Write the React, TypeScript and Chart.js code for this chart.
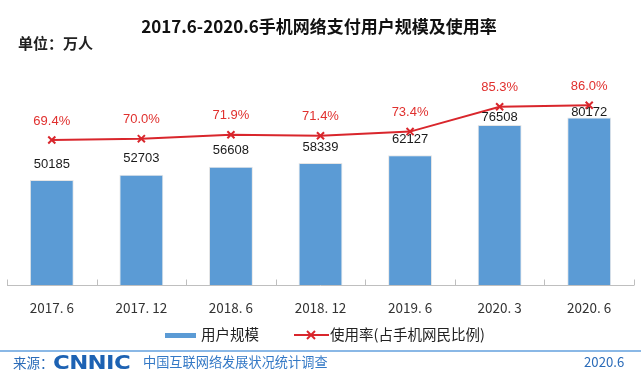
import { useEffect, useRef } from "react";
import { Chart, registerables } from "chart.js";

Chart.register(...registerables);

const categories = ["2017. 6", "2017. 12", "2018. 6", "2018. 12", "2019. 6", "2020. 3", "2020. 6"];
const userScale = [50185, 52703, 56608, 58339, 62127, 76508, 80172];
const usageRate = [69.4, 70.0, 71.9, 71.4, 73.4, 85.3, 86.0];

const BAR_COLOR = "#5b9bd5";
const LINE_COLOR = "#d9262c";
const RATE_TEXT = "#e0302e";
const CJK = "'Noto Sans CJK SC', 'Noto Sans', sans-serif";
const LATIN = "'Liberation Sans', Arial, sans-serif";

// vertical gap between a bar top and the centre of its value label
const barLabelGap = [16, 16, 16, 16, 16, 8, 5];
const rateLabelGap = 19;

const overlayPlugin = {
  id: "overlay",
  afterDatasetsDraw(chart: any) {
    const ctx = chart.ctx as CanvasRenderingContext2D;
    const area = chart.chartArea;
    const xs = chart.scales.x;
    const n = chart.data.labels.length;
    ctx.save();
    // axis line + boundary tick marks
    ctx.strokeStyle = "#bfbfbf";
    ctx.lineWidth = 1;
    const yb = Math.round(area.bottom) + 0.5;
    ctx.beginPath();
    ctx.moveTo(area.left, yb);
    ctx.lineTo(area.right, yb);
    for (let i = 0; i <= n; i++) {
      const px = Math.round(xs.getPixelForValue(i - 0.5)) + 0.5;
      ctx.moveTo(px, yb);
      ctx.lineTo(px, yb - 6);
    }
    ctx.stroke();

    ctx.textAlign = "center";
    ctx.textBaseline = "middle";
    ctx.font = `13px ${LATIN}`;
    const barMeta = chart.getDatasetMeta(0);
    ctx.fillStyle = "#1a1a1a";
    barMeta.data.forEach((el: any, i: number) => {
      ctx.fillText(String(userScale[i]), el.x, el.y - barLabelGap[i]);
    });
    const lineMeta = chart.getDatasetMeta(1);
    ctx.fillStyle = RATE_TEXT;
    lineMeta.data.forEach((el: any, i: number) => {
      ctx.fillText(usageRate[i].toFixed(1) + "%", el.x, el.y - rateLabelGap);
    });
    ctx.restore();
  },
};

export default function App() {
  const canvasRef = useRef<HTMLCanvasElement>(null);

  useEffect(() => {
    if (!canvasRef.current) return;
    const chart = new Chart(canvasRef.current, {
      type: "bar",
      data: {
        labels: categories,
        datasets: [
          {
            type: "bar",
            label: "用户规模",
            data: userScale,
            backgroundColor: BAR_COLOR,
            borderColor: "rgba(0,0,0,0.10)",
            borderWidth: 1,
            categoryPercentage: 1,
            barPercentage: 0.49,
            yAxisID: "y",
            order: 1,
          },
          {
            type: "line",
            label: "使用率(占手机网民比例)",
            data: usageRate,
            borderColor: LINE_COLOR,
            backgroundColor: LINE_COLOR,
            borderWidth: 2,
            pointStyle: "crossRot",
            pointRadius: 5,
            pointBorderWidth: 2,
            pointBorderColor: LINE_COLOR,
            tension: 0,
            yAxisID: "y2",
            order: 0,
          },
        ],
      },
      options: {
        responsive: false,
        animation: false,
        devicePixelRatio: 1,
        layout: { padding: { left: 5, right: 4, top: 76, bottom: 45.8 } },
        plugins: {
          legend: { display: false },
          tooltip: { enabled: false },
          title: { display: false },
        },
        scales: {
          x: {
            offset: true,
            grid: { display: false, drawTicks: false },
            border: { display: false },
            ticks: {
              color: "#333333",
              padding: 15,
              maxRotation: 0,
              autoSkip: false,
              font: { family: CJK, size: 13.5 },
            },
          },
          y: { display: false, min: 0, max: 100000 },
          y2: { display: false, min: 0, max: 100, position: "right" },
        },
      },
      plugins: [overlayPlugin],
    } as any);
    return () => chart.destroy();
  }, []);

  const abs = (o: any) => ({ position: "absolute" as const, whiteSpace: "nowrap" as const, ...o });

  return (
    <div
      style={{
        position: "fixed",
        left: 0,
        top: 0,
        width: 641,
        height: 377,
        background: "#ffffff",
        overflow: "hidden",
        fontFamily: CJK,
      }}
    >
      <canvas
        ref={canvasRef}
        width={641}
        height={377}
        style={{ position: "absolute", left: 0, top: 0, width: 641, height: 377 }}
      />
      <div
        style={abs({
          left: 0,
          top: 16,
          width: 638,
          textAlign: "center",
          fontSize: 17,
          lineHeight: "20px",
          fontWeight: 700,
          color: "#111111",
        })}
      >
        2017.6-2020.6手机网络支付用户规模及使用率
      </div>
      <div style={abs({ left: 18, top: 34, fontSize: 15, lineHeight: "18px", fontWeight: 700, color: "#222222" })}>
        单位：万人
      </div>

      {/* legend */}
      <div style={abs({ left: 165, top: 333, width: 31, height: 5, background: BAR_COLOR })} />
      <div style={abs({ left: 201, top: 325, fontSize: 14.5, lineHeight: "18px", color: "#222222" })}>用户规模</div>
      <svg style={abs({ left: 294, top: 329 })} width={35} height={12}>
        <line x1={0} y1={6} x2={35} y2={6} stroke={LINE_COLOR} strokeWidth={2} />
        <line x1={13} y1={2} x2={21} y2={10} stroke={LINE_COLOR} strokeWidth={2} />
        <line x1={21} y1={2} x2={13} y2={10} stroke={LINE_COLOR} strokeWidth={2} />
      </svg>
      <div style={abs({ left: 330, top: 325, fontSize: 14.5, lineHeight: "18px", color: "#222222" })}>
        使用率(占手机网民比例)
      </div>

      {/* footer */}
      <div style={abs({ left: 0, top: 350, width: 641, height: 2, background: "#8ab8e6" })} />
      <div style={abs({ left: 13, top: 353, fontSize: 13.5, lineHeight: "18px", color: "#2a6bb8" })}>来源：</div>
      <div
        style={abs({
          left: 53,
          top: 351,
          fontSize: 19,
          lineHeight: "22px",
          fontWeight: 700,
          fontFamily: "'DejaVu Sans', sans-serif",
          color: "#1d62b3",
          transform: "scaleX(1.2)",
          transformOrigin: "left center",
          letterSpacing: "-0.5px",
        })}
      >
        CNNIC
      </div>
      <div style={abs({ left: 143, top: 353, fontSize: 13.2, lineHeight: "18px", color: "#3479c6" })}>
        中国互联网络发展状况统计调查
      </div>
      <div style={abs({ left: 584, top: 353, fontSize: 13.2, lineHeight: "18px", color: "#2a6bb8" })}>2020.6</div>
    </div>
  );
}
